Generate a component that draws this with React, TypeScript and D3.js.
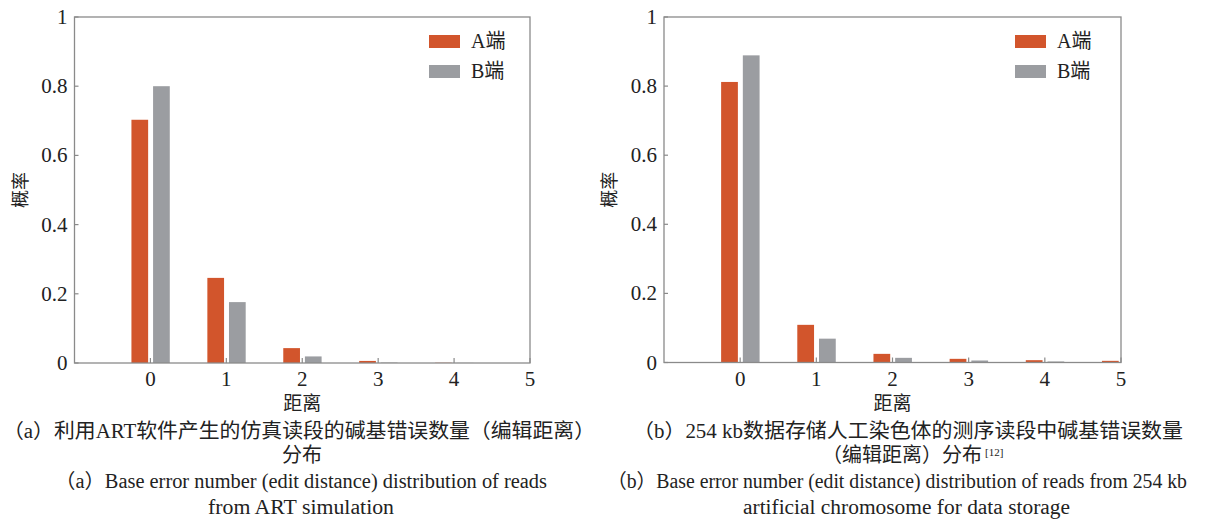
import React from "react";
import * as d3 from "d3";

const distances = [0, 1, 2, 3, 4, 5];
const xTickLabels = ["0", "1", "2", "3", "4", "5"];
const yTicks = [0, 0.2, 0.4, 0.6, 0.8, 1];
const yTickLabels = ["0", "0.2", "0.4", "0.6", "0.8", "1"];
const seriesNames = ["A端", "B端"];

// Panel (a): ART simulation
const artA = [0.703, 0.246, 0.043, 0.006, 0.0008];
const artB = [0.8, 0.176, 0.019, 0.0012, 0.0004];
// Panel (b): 254 kb artificial chromosome
const chrA = [0.812, 0.109, 0.025, 0.0106, 0.0067, 0.0048];
const chrB = [0.889, 0.069, 0.0135, 0.0058, 0.003];

const yLabel = "概率";
const xLabel = "距离";

const COLOR_A = "#d2552c";
const COLOR_B = "#9b9da1";
const FRAME = "#8a8a8a";
const FONT = "'Liberation Serif', 'Times New Roman', 'Noto Sans CJK SC', serif";

type PanelProps = {
  id: string;
  left: number;
  right: number;
  top: number;
  bottom: number;
  a: number[];
  b: number[];
  legendX: number;
};

function Panel({ id, left, right, top, bottom, a, b, legendX }: PanelProps) {
  const x = d3.scaleLinear().domain([-1, 5]).range([left, right]);
  const y = d3.scaleLinear().domain([0, 1]).range([bottom, top]);
  const barW = 0.22;
  const offA = -0.25;
  const offB = 0.035;
  const clipId = "clip-" + id;
  return (
    <g>
      <defs>
        <clipPath id={clipId}>
          <rect x={left} y={top} width={right - left} height={bottom - top} />
        </clipPath>
      </defs>
      <g clipPath={`url(#${clipId})`}>
        {a.map((v, i) => (
          <rect
            key={"a" + i}
            x={x(distances[i] + offA)}
            y={y(v)}
            width={x(barW) - x(0)}
            height={y(0) - y(v)}
            fill={COLOR_A}
          />
        ))}
        {b.map((v, i) => (
          <rect
            key={"b" + i}
            x={x(distances[i] + offB)}
            y={y(v)}
            width={x(barW) - x(0)}
            height={y(0) - y(v)}
            fill={COLOR_B}
          />
        ))}
      </g>
      <rect
        x={left}
        y={top}
        width={right - left}
        height={bottom - top}
        fill="none"
        stroke={FRAME}
        strokeWidth={1.3}
      />
      {distances.map((d, i) => (
        <g key={"xt" + i}>
          <line x1={x(d)} x2={x(d)} y1={bottom} y2={bottom - 5} stroke={FRAME} strokeWidth={1.2} />
          <text
            x={x(d)}
            y={bottom + 23}
            textAnchor="middle"
            fontSize={21}
            fontFamily={FONT}
            fill="#222"
          >
            {xTickLabels[i]}
          </text>
        </g>
      ))}
      {yTicks.map((t, i) => (
        <g key={"yt" + i}>
          <line x1={left} x2={left + 4} y1={y(t)} y2={y(t)} stroke={FRAME} strokeWidth={1.2} />
          <text
            x={left - 7}
            y={y(t) + 7}
            textAnchor="end"
            fontSize={21}
            fontFamily={FONT}
            fill="#222"
          >
            {yTickLabels[i]}
          </text>
        </g>
      ))}
      <text
        transform={`translate(${left - 54},${(top + bottom) / 2}) rotate(-90)`}
        textAnchor="middle"
        fontSize={18}
        fontFamily={FONT}
        fill="#222"
        dominantBaseline="central"
      >
        {yLabel}
      </text>
      <text
        x={(left + right) / 2}
        y={bottom + 47}
        textAnchor="middle"
        fontSize={19}
        fontFamily={FONT}
        fill="#222"
      >
        {xLabel}
      </text>
      {seriesNames.map((s, i) => (
        <g key={"lg" + i}>
          <rect
            x={legendX}
            y={35 + i * 30}
            width={31}
            height={13}
            fill={i === 0 ? COLOR_A : COLOR_B}
          />
          <text
            x={legendX + 42}
            y={48 + i * 30}
            fontSize={20}
            fontFamily={FONT}
            fill="#222"
          >
            {s}
          </text>
        </g>
      ))}
    </g>
  );
}

const capStyle = { fontFamily: FONT, fill: "#222" };

export default function App() {
  return (
    <svg
      width={1215}
      height={523}
      style={{ position: "absolute", left: 0, top: 0, background: "#fff" }}
    >
      <Panel id="a" left={74.5} right={530} top={17} bottom={363} a={artA} b={artB} legendX={429} />
      <Panel id="b" left={664} right={1121} top={17} bottom={362.5} a={chrA} b={chrB} legendX={1015} />

      <text x={3} y={438} fontSize={20} textLength={592} lengthAdjust="spacingAndGlyphs" {...capStyle}>
        （a）利用ART软件产生的仿真读段的碱基错误数量（编辑距离）
      </text>
      <text x={302} y={462} fontSize={20} textAnchor="middle" {...capStyle}>
        分布
      </text>
      <text x={55} y={488} fontSize={20} textLength={492} lengthAdjust="spacingAndGlyphs" {...capStyle}>
        （a）Base error number (edit distance) distribution of reads
      </text>
      <text x={208} y={514} fontSize={20} textLength={186} lengthAdjust="spacingAndGlyphs" {...capStyle}>
        from ART simulation
      </text>

      <text x={633} y={438} fontSize={20} textLength={550} lengthAdjust="spacingAndGlyphs" {...capStyle}>
        （b）254 kb数据存储人工染色体的测序读段中碱基错误数量
      </text>
      <text x={822} y={462} fontSize={20} {...capStyle}>
        （编辑距离）分布
      </text>
      <text x={985} y={456} fontSize={11} {...capStyle}>
        [12]
      </text>
      <text x={607} y={488} fontSize={20} textLength={580} lengthAdjust="spacingAndGlyphs" {...capStyle}>
        （b）Base error number (edit distance) distribution of reads from 254 kb
      </text>
      <text x={743} y={514} fontSize={20} textLength={327} lengthAdjust="spacingAndGlyphs" {...capStyle}>
        artificial chromosome for data storage
      </text>
    </svg>
  );
}
